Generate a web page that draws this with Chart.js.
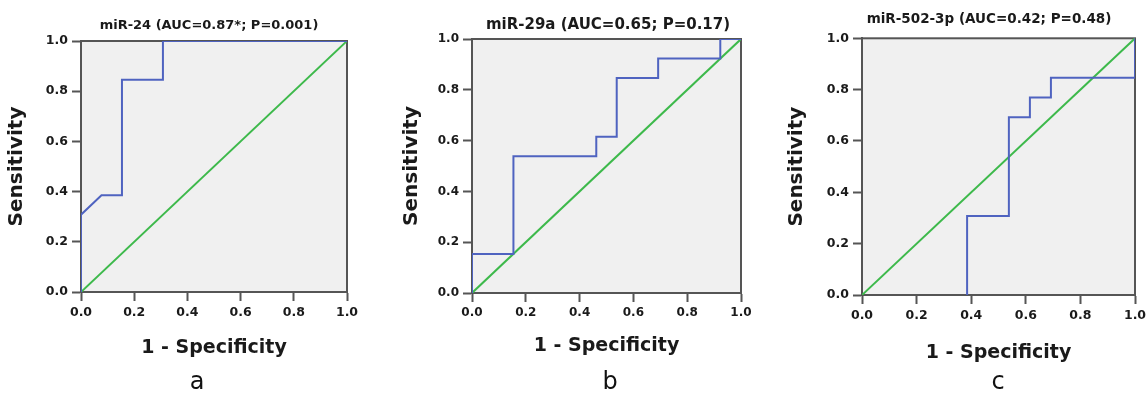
<!DOCTYPE html>
<html lang="en">
<head>
    <meta charset="UTF-8">
    <title>ROC curves</title>
    <script src="https://cdn.jsdelivr.net/npm/chart.js@4/dist/chart.umd.min.js"></script>
    <style>
        body { margin: 0; background: #fff; overflow: hidden; width: 1146px; height: 394px; position: relative; }
        .panel { position: absolute; top: 0; height: 394px; }
        .tag { position: absolute; top: 369px; width: 40px; text-align: center;
               font: 24px/24px "DejaVu Sans", sans-serif; color: #111; }
    </style>
</head>
<body>
<div class="panel" style="left:0;width:418px"><canvas id="rocA"></canvas></div>
<div class="panel" style="left:380px;width:456px"><canvas id="rocB"></canvas></div>
<div class="panel" style="left:760px;width:458px"><canvas id="rocC"></canvas></div>
<div class="tag" style="left:177px">a</div>
<div class="tag" style="left:590px">b</div>
<div class="tag" style="left:978px">c</div>
<script>
    // axis ticks (shared)
    const tickValues = [0, 0.2, 0.4, 0.6, 0.8, 1.0];
    const tickLabels = ['0.0', '0.2', '0.4', '0.6', '0.8', '1.0'];

    // reference diagonal
    const refX = [0, 1];
    const refY = [0, 1];

    // miR-24
    const aTitle = 'miR-24 (AUC=0.87*; P=0.001)';
    const aFpr = [0, 0, 0.077, 0.154, 0.154, 0.308, 0.308, 1];
    const aTpr = [0, 0.308, 0.385, 0.385, 0.846, 0.846, 1, 1];

    // miR-29a
    const bTitle = 'miR-29a (AUC=0.65; P=0.17)';
    const bFpr = [0, 0, 0.154, 0.154, 0.462, 0.462, 0.538, 0.538, 0.692, 0.692, 0.923, 0.923, 1];
    const bTpr = [0, 0.154, 0.154, 0.538, 0.538, 0.615, 0.615, 0.846, 0.846, 0.923, 0.923, 1, 1];

    // miR-502-3p (the stretch along the x axis up to 0.385 is hidden under the axis)
    const cTitle = 'miR-502-3p (AUC=0.42; P=0.48)';
    const cFpr = [0.385, 0.385, 0.538, 0.538, 0.615, 0.615, 0.692, 0.692, 1, 1];
    const cTpr = [0, 0.308, 0.308, 0.692, 0.692, 0.769, 0.769, 0.846, 0.846, 1];

    const FONT = '"DejaVu Sans", Verdana, sans-serif';
    const AXIS = '#555';

    // plot background + box frame
    const framePlugin = {
        id: 'frame',
        beforeDraw(chart) {
            const a = chart.chartArea, ctx = chart.ctx;
            ctx.save();
            ctx.fillStyle = '#f0f0f0';
            ctx.fillRect(a.left, a.top, a.right - a.left, a.bottom - a.top);
            ctx.restore();
        },
        beforeDatasetsDraw(chart) {
            const a = chart.chartArea, ctx = chart.ctx;
            ctx.save();
            ctx.strokeStyle = AXIS;
            ctx.lineWidth = 2;
            ctx.strokeRect(a.left, a.top, a.right - a.left, a.bottom - a.top);
            ctx.restore();
        }
    };

    const pts = (xs, ys) => xs.map((x, i) => ({x: x, y: ys[i]}));

    function rocChart(id, title, fpr, tpr, p) {
        return new Chart(id, {
            type: 'scatter',
            data: {
                datasets: [
                    {data: pts(fpr, tpr), showLine: true, borderColor: '#4f63c0', borderWidth: 2, pointRadius: 0},
                    {data: pts(refX, refY), showLine: true, borderColor: '#3db94b', borderWidth: 2, pointRadius: 0}
                ]
            },
            options: {
                animation: false,
                responsive: true,
                maintainAspectRatio: false,
                layout: {padding: 0},
                plugins: {
                    legend: {display: false},
                    tooltip: {enabled: false},
                    title: {
                        display: true,
                        text: title,
                        color: '#1a1a1a',
                        font: {family: FONT, size: p.titleSize, weight: 'bold'},
                        padding: {top: p.titleTop, bottom: p.titleBottom}
                    }
                },
                scales: {
                    x: {
                        type: 'linear', min: 0, max: 1,
                        afterBuildTicks: s => { s.ticks = tickValues.map(v => ({value: v})); },
                        afterFit: s => { s.height = 394 - p.bottom; },
                        ticks: {
                            callback: (v, i) => tickLabels[i],
                            color: '#1a1a1a', padding: 4, maxRotation: 0,
                            font: {family: FONT, size: p.tickSize, weight: 'bold'}
                        },
                        grid: {drawOnChartArea: false, tickLength: 9, tickColor: AXIS, tickWidth: 2},
                        border: {color: AXIS, width: 2},
                        title: {
                            display: true, text: '1 - Specificity', color: '#1a1a1a',
                            font: {family: FONT, size: 19, weight: 'bold'},
                            padding: {top: 0, bottom: p.xTitleBottom}
                        }
                    },
                    y: {
                        type: 'linear', min: 0, max: 1,
                        afterBuildTicks: s => { s.ticks = tickValues.map(v => ({value: v})); },
                        afterFit: s => { s.width = p.yWidth; },
                        ticks: {
                            callback: (v, i) => tickLabels[i],
                            color: '#1a1a1a', padding: 4,
                            font: {family: FONT, size: p.tickSize, weight: 'bold'}
                        },
                        grid: {drawOnChartArea: false, tickLength: 9, tickColor: AXIS, tickWidth: 2},
                        border: {color: AXIS, width: 2},
                        title: {
                            display: true, text: 'Sensitivity', color: '#1a1a1a',
                            font: {family: FONT, size: 20, weight: 'bold'},
                            padding: {top: p.yTitleTop, bottom: 0}
                        }
                    },
                    y2: {
                        type: 'linear', position: 'right', min: 0, max: 1,
                        afterFit: s => { s.width = p.rightGap; },
                        ticks: {display: false},
                        grid: {display: false},
                        border: {display: false}
                    }
                }
            },
            plugins: [framePlugin]
        });
    }

    rocChart('rocA', aTitle, aFpr, aTpr,
        {titleSize: 13, titleTop: 17.5, titleBottom: 7.9, tickSize: 12.5, bottom: 292,
         xTitleBottom: 34.5, yWidth: 81, yTitleTop: 4.7, rightGap: 71});
    rocChart('rocB', bTitle, bFpr, bTpr,
        {titleSize: 15, titleTop: 16.5, titleBottom: 4.5, tickSize: 12, bottom: 293,
         xTitleBottom: 37, yWidth: 92, yTitleTop: 19.7, rightGap: 95});
    rocChart('rocC', cTitle, cFpr, cTpr,
        {titleSize: 13.5, titleTop: 11.5, titleBottom: 10.6, tickSize: 12.5, bottom: 295,
         xTitleBottom: 29.5, yWidth: 102, yTitleTop: 24.7, rightGap: 83});
</script>
</body>
</html>
